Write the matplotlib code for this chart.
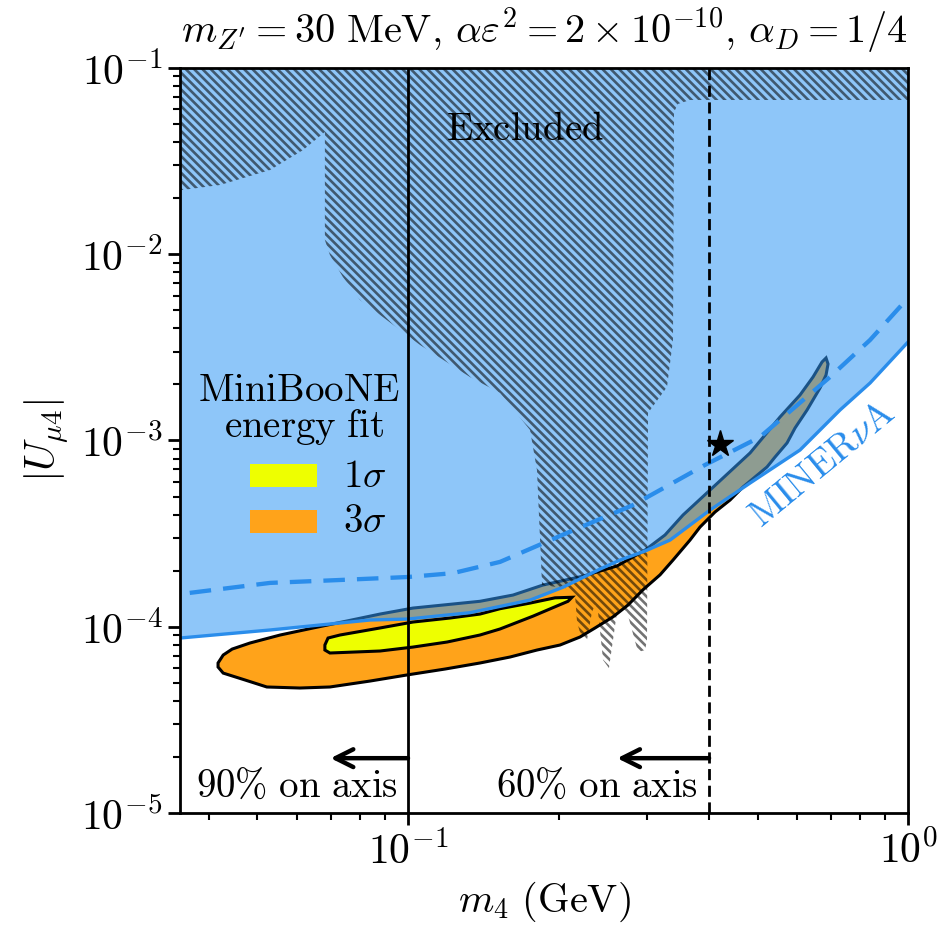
import numpy as np
import matplotlib
matplotlib.use("Agg")
import matplotlib.pyplot as plt
from matplotlib.patches import Polygon, Rectangle
from matplotlib.ticker import NullFormatter

plt.rcParams.update({
    "mathtext.fontset": "cm",
    "font.family": "serif",
    "font.serif": ["cmr10", "DejaVu Serif"],
    "axes.formatter.use_mathtext": True,
    "hatch.linewidth": 1.9,
    "font.size": 28,
})

# ---------------- data (m4 in GeV, |U_mu4|) ----------------
# MINERvA bound (solid)
minerva_m = [0.0350, 0.0530, 0.0667, 0.0839, 0.100, 0.133, 0.1754, 0.2042,
             0.2421, 0.2655, 0.2979, 0.3342, 0.4018, 0.4831, 0.6081, 0.7311,
             0.8395, 1.0]
minerva_U = [8.70e-5, 9.61e-5, 1.022e-4, 1.087e-4, 1.10e-4, 1.19e-4, 1.39e-4,
             1.63e-4, 2.04e-4, 2.28e-4, 2.55e-4, 2.92e-4, 4.23e-4, 5.91e-4,
             8.89e-4, 1.458e-3, 2.035e-3, 3.38e-3]

# dashed curve
dashed_m = [0.0366, 0.0530, 0.0721, 0.100, 0.1230, 0.1528, 0.2080, 0.2818,
            0.3926, 0.5058, 0.6982, 0.8395, 1.0]
dashed_U = [1.52e-4, 1.72e-4, 1.78e-4, 1.85e-4, 1.94e-4, 2.23e-4, 3.19e-4,
            4.50e-4, 7.39e-4, 1.044e-3, 2.193e-3, 3.464e-3, 5.823e-3]

# excluded (hatched) region outline
excl_m = [0.035, 1.0, 1.0, 0.3664, 0.3467, 0.3404, 0.3388, 0.3296, 0.3020,
          0.3006, 0.2979, 0.2884, 0.2742, 0.2679, 0.2618, 0.2523, 0.2455,
          0.2399, 0.2366, 0.2333, 0.2280, 0.2218, 0.2178, 0.2158, 0.2061,
          0.1854, 0.1811, 0.1754, 0.1528, 0.1330, 0.1057, 0.0802, 0.0741,
          0.0698, 0.0682, 0.0682, 0.0617, 0.0530, 0.0421, 0.0354, 0.035]
excl_U = [0.1, 0.1, 0.0673, 0.0673, 0.0641, 0.0580, 3.464e-3, 1.938e-3,
          1.405e-3, 8.49e-5, 7.50e-5, 7.31e-5, 1.20e-4, 1.26e-4, 1.20e-4,
          6.00e-5, 6.63e-5, 1.20e-4, 1.308e-4, 1.20e-4, 8.49e-5, 8.92e-5,
          1.06e-4, 1.48e-4, 1.614e-4, 1.675e-4, 6.94e-4, 1.139e-3, 1.799e-3,
          2.193e-3, 3.258e-3, 5.68e-3, 7.547e-3, 9.91e-3, 1.193e-2, 4.532e-2,
          3.627e-2, 2.834e-2, 2.354e-2, 2.213e-2, 2.213e-2]

# MiniBooNE energy fit, 3 sigma region
fit3_m = [0.0417, 0.0427, 0.0445, 0.0483, 0.0555, 0.0646, 0.0755, 0.0879,
          0.1023, 0.1393, 0.1622, 0.1862, 0.2239, 0.2618, 0.2979, 0.3266,
          0.3548, 0.4018, 0.4831, 0.5546, 0.6081, 0.6457, 0.6730, 0.6855,
          0.6918, 0.6855, 0.6668, 0.6281, 0.5943, 0.5728, 0.5420, 0.5224,
          0.4943, 0.4677, 0.4406, 0.4111, 0.3837, 0.3664, 0.3388, 0.3192,
          0.2951, 0.2754, 0.2570, 0.2366, 0.2208, 0.2014, 0.1811, 0.1600,
          0.1393, 0.1186, 0.0995, 0.0839, 0.0698, 0.0608, 0.0522, 0.0472,
          0.0427, 0.0417]
fit3_U = [6.39e-5, 7.05e-5, 7.59e-5, 8.18e-5, 9.03e-5, 9.85e-5, 1.074e-4,
          1.17e-4, 1.26e-4, 1.37e-4, 1.48e-4, 1.675e-4, 1.87e-4, 2.12e-4,
          2.58e-4, 3.11e-4, 3.98e-4, 5.42e-4, 8.57e-4, 1.337e-3, 1.755e-3,
          2.193e-3, 2.64e-3, 2.773e-3, 2.575e-3, 2.247e-3, 1.914e-3, 1.458e-3,
          1.167e-3, 9.70e-4, 8.15e-4, 7.21e-4, 6.37e-4, 5.63e-4, 4.79e-4,
          4.13e-4, 3.43e-4, 2.92e-4, 2.28e-4, 1.90e-4, 1.58e-4, 1.308e-4,
          1.13e-4, 9.85e-5, 8.81e-5, 7.98e-5, 7.50e-5, 6.88e-5, 6.39e-5,
          5.93e-5, 5.51e-5, 5.11e-5, 4.75e-5, 4.69e-5, 4.75e-5, 5.18e-5,
          5.64e-5, 6.08e-5]

# MiniBooNE energy fit, 1 sigma region
fit1_m = [0.0682, 0.0692, 0.0731, 0.0879, 0.1023, 0.1213, 0.1393, 0.1528,
          0.1754, 0.1968, 0.2128, 0.2089, 0.1968, 0.1778, 0.1528, 0.1393,
          0.1197, 0.1023, 0.0879, 0.0698, 0.0682]
fit1_U = [7.98e-5, 8.70e-5, 9.03e-5, 9.85e-5, 1.06e-4, 1.114e-4, 1.17e-4,
          1.25e-4, 1.34e-4, 1.43e-4, 1.44e-4, 1.37e-4, 1.28e-4, 1.14e-4,
          9.73e-5, 9.03e-5, 8.28e-5, 7.78e-5, 7.41e-5, 7.23e-5, 7.50e-5]

# benchmark point
star_m, star_U = 0.42, 9.6e-4

# on-axis fraction boundaries
axis90_m, axis60_m = 0.1, 0.4
arrow90_tip, arrow60_tip = 0.07, 0.262
arrow_U = 1.97e-5

# ---------------- styling ----------------
blue = "#3197F5"
blue_line = "#2A8DEB"
orange = "#FFA31A"
yellow = "#EEFF00"

fig = plt.figure(figsize=(9.4, 9.26), dpi=100)
ax = fig.add_axes([0.1915, 0.1220, 0.7745, 0.8046])
ax.set_xscale("log")
ax.set_yscale("log")
ax.set_xlim(0.035, 1.0)
ax.set_ylim(1e-5, 1e-1)

# fit regions
ax.add_patch(Polygon(np.column_stack([fit3_m, fit3_U]), closed=True,
                     facecolor=orange, edgecolor="k", lw=2.2, zorder=1))
ax.add_patch(Polygon(np.column_stack([fit1_m, fit1_U]), closed=True,
                     facecolor=yellow, edgecolor="k", lw=2.2, zorder=2))

# region above the MINERvA bound
ax.fill_between(minerva_m, minerva_U, 0.1, color=blue, alpha=0.55, lw=0,
                zorder=3)

# excluded region
ax.add_patch(Polygon(np.column_stack([excl_m, excl_U]), closed=True,
                     facecolor="none", edgecolor=(0, 0, 0, 0.55), lw=0,
                     hatch="\\\\\\\\", zorder=4))

ax.plot(minerva_m, minerva_U, color=blue_line, lw=2.4, zorder=5)
ax.plot(dashed_m, dashed_U, color=blue_line, lw=3.1, ls=(0, (5, 2.8)),
        zorder=5)

ax.axvline(axis90_m, color="k", lw=2.0, zorder=6)
ax.axvline(axis60_m, color="k", lw=2.0, ls=(0, (4, 2)), zorder=6)

ax.plot([star_m], [star_U], marker="*", color="k", ms=20, zorder=7)

for start, tip in [(axis90_m, arrow90_tip), (axis60_m, arrow60_tip)]:
    ax.annotate("", xy=(tip, arrow_U), xytext=(start, arrow_U),
                arrowprops=dict(arrowstyle="->", lw=3.2, color="k",
                                mutation_scale=32, shrinkA=0, shrinkB=0),
                zorder=7)

ax.text(0.0955, 1.38e-5, r"$\mathrm{90\%\ on\ axis}$", ha="right",
        va="center", zorder=8)
ax.text(0.380, 1.38e-5, r"$\mathrm{60\%\ on\ axis}$", ha="right",
        va="center", zorder=8)
ax.text(0.171, 0.0465, r"$\mathrm{Excluded}$", ha="center", va="center",
        zorder=8)
ax.text(0.676, 7.39e-4, r"$\mathrm{MINER}\nu\mathrm{A}$", color=blue_line,
        rotation=39.5, rotation_mode="anchor", ha="center", va="center",
        fontsize=27, zorder=8)

# legend
ax.text(0.163, 0.566, r"$\mathrm{MiniBooNE}$", transform=ax.transAxes,
        ha="center", va="center", zorder=8)
ax.text(0.170, 0.518, r"$\mathrm{energy\ fit}$", transform=ax.transAxes,
        ha="center", va="center", zorder=8)
ax.add_patch(Rectangle((0.0962, 0.4376), 0.092, 0.031, transform=ax.transAxes,
                       facecolor=yellow, lw=0, zorder=8))
ax.add_patch(Rectangle((0.0962, 0.3758), 0.092, 0.031, transform=ax.transAxes,
                       facecolor=orange, lw=0, zorder=8))
ax.text(0.224, 0.451, r"$1\sigma$", transform=ax.transAxes, ha="left",
        va="center", zorder=8)
ax.text(0.224, 0.3906, r"$3\sigma$", transform=ax.transAxes, ha="left",
        va="center", zorder=8)

ax.set_title(r"$m_{Z^\prime} = 30\ \mathrm{MeV},\, \alpha\varepsilon^2 = "
             r"2\times10^{-10},\, \alpha_D = 1/4$", pad=18, fontsize=29)
ax.set_xlabel(r"$m_4\ (\mathrm{GeV})$", fontsize=29, labelpad=6)
ax.set_ylabel(r"$|U_{\mu 4}|$", fontsize=30, labelpad=8)

for s in ax.spines.values():
    s.set_linewidth(2.0)
    s.set_zorder(10)
ax.tick_params(which="major", length=8.5, width=2.0, pad=4, labelsize=30)
ax.tick_params(which="minor", length=5, width=1.5)
ax.xaxis.set_minor_formatter(NullFormatter())
ax.yaxis.set_minor_formatter(NullFormatter())

fig.savefig("out.png", dpi=100)
